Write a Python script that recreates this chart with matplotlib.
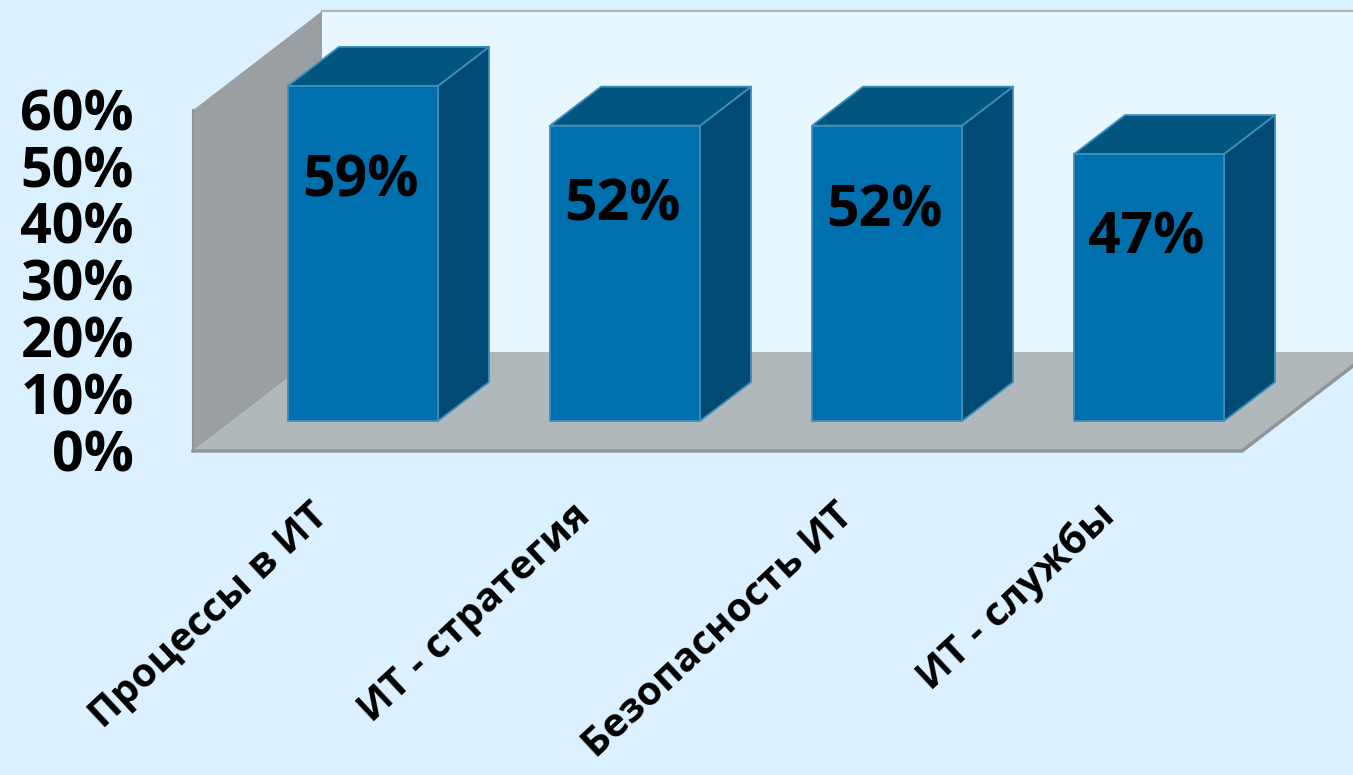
import matplotlib
matplotlib.use("Agg")
import matplotlib.pyplot as plt
from matplotlib.patches import Polygon, Rectangle

plt.rcParams['font.family'] = ['Open Sans', 'DejaVu Sans']

categories = ['Процессы в ИТ', 'ИТ - стратегия', 'Безопасность ИТ', 'ИТ - службы']
values = [59, 52, 52, 47]
tick_values = [0, 10, 20, 30, 40, 50, 60]
tick_labels = ['0%', '10%', '20%', '30%', '40%', '50%', '60%']

# scale of the drawing: one category step and one percent, in pixels
STEP = 262.0
PCT = 5.68
W, H = 1353, 775
X0, Y0 = 363, 421

BG = '#dcf1ff'
BACK = '#e8f6ff'
WALL = '#999fa3'
FLOOR = '#b0b8bc'
FRONT = '#006fae'
SIDE = '#004a73'
TOP = '#00567f'
EDGE = '#3f8fba'

bar_w = 150 / STEP
bar_dx, bar_dy = 51 / STEP, 39 / PCT
box_dx, box_dy = 129 / STEP, 99 / PCT
box_left, box_right = (193 - X0) / STEP, (1242 - X0) / STEP
base = -30 / PCT  # the box floor sits below the bars
wall_h = 60


def add_poly(ax, pts, color, **kwargs):
    ax.add_patch(Polygon(pts, closed=True, facecolor=color, **kwargs))


def draw_box(ax):
    bl = (box_left + box_dx, base + box_dy)
    add_poly(ax, [bl, (box_right + box_dx + 1, base + box_dy),
                  (box_right + box_dx + 1, base + box_dy + wall_h), (bl[0], base + box_dy + wall_h)],
             BACK, edgecolor='none', zorder=1)
    ax.plot([bl[0], box_right + box_dx + 1], [base + box_dy + wall_h] * 2,
            color='#a9b4ba', lw=1.5, zorder=2)
    add_poly(ax, [(box_left, base), (box_left + box_dx, base + box_dy),
                  (box_left + box_dx, base + box_dy + wall_h), (box_left, base + wall_h)],
             WALL, edgecolor='none', zorder=2)
    add_poly(ax, [(box_left, base), (box_right, base),
                  (box_right + box_dx, base + box_dy), (box_left + box_dx, base + box_dy)],
             FLOOR, edgecolor='none', zorder=3)
    # darker rim along the front and right floor edges
    ax.plot([box_left, box_right, box_right + box_dx], [base, base, base + box_dy],
            color='#8f9599', lw=2.5, zorder=3, solid_joinstyle='miter')
    ax.plot([box_left, box_left], [base, base + wall_h], color='#8c9298', lw=1.5, zorder=3)


def draw_bar(ax, x, v):
    l, r = x - bar_w / 2, x + bar_w / 2
    style = dict(edgecolor=EDGE, lw=1.3, joinstyle='round', zorder=4)
    add_poly(ax, [(r, 0), (r + bar_dx, bar_dy), (r + bar_dx, v + bar_dy), (r, v)], SIDE, **style)
    add_poly(ax, [(l, v), (r, v), (r + bar_dx, v + bar_dy), (l + bar_dx, v + bar_dy)], TOP, **style)
    ax.add_patch(Rectangle((l, 0), bar_w, v, facecolor=FRONT, **style))


fig = plt.figure(figsize=(W / 100, H / 100), dpi=100, facecolor=BG)
ax = fig.add_axes([0, 0, 1, 1])
ax.set_xlim(-X0 / STEP, (W - X0) / STEP)
ax.set_ylim((Y0 - H) / PCT, Y0 / PCT)
ax.axis('off')

draw_box(ax)

label_drop = [96 / PCT, 80 / PCT, 86 / PCT, 84 / PCT]
for i, v in enumerate(values):
    draw_bar(ax, i, v)
    ax.text(i - 0.01, v - label_drop[i], f'{v}%', ha='center', va='center',
            fontsize=41, fontweight='bold', color='black', zorder=5)

tick_x = (134 - X0) / STEP
for v, lab in zip(tick_values, tick_labels):
    ax.text(tick_x, base + v - 1, lab, ha='right', va='center', fontsize=40,
            fontweight='bold', color='black', zorder=5)

for i, cat in enumerate(categories):
    ax.text(i - 40 / STEP, -89 / PCT, cat, rotation=43, rotation_mode='anchor',
            ha='right', va='center', fontsize=29, fontweight='bold', color='black')

fig.savefig('out.png', dpi=100, facecolor=BG)
